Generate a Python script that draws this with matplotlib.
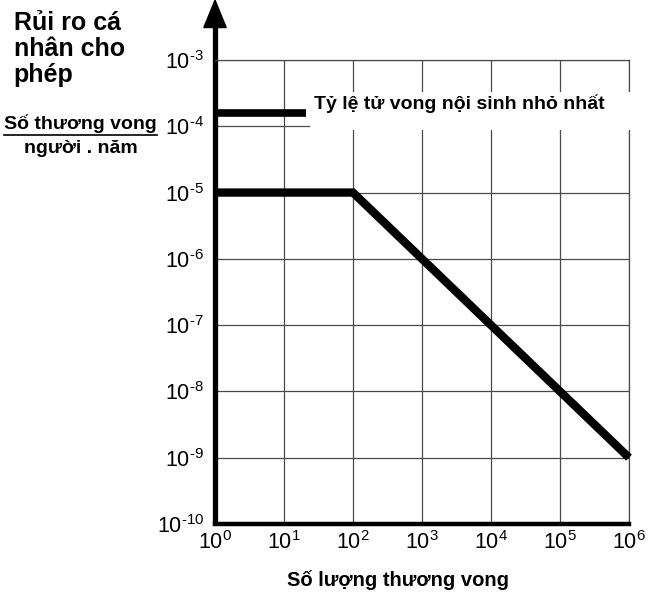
import matplotlib
matplotlib.use('Agg')
import matplotlib.pyplot as plt
from matplotlib.lines import Line2D
from matplotlib.patches import Polygon

plt.rcParams['font.family'] = ['Liberation Sans', 'DejaVu Sans']
plt.rcParams['mathtext.fontset'] = 'custom'
plt.rcParams['mathtext.rm'] = 'Liberation Sans'
plt.rcParams['mathtext.it'] = 'Liberation Sans'

# Criterion line (number of casualties vs allowed individual risk)
casualties = [1, 100, 1e6]
risk_limit = [1e-5, 1e-5, 1e-9]

# Minimum natural death rate marker
min_death_x = [1, 21]
min_death_y = [1.6e-4, 1.6e-4]

x_exps = [0, 1, 2, 3, 4, 5, 6]
y_exps = [-10, -9, -8, -7, -6, -5, -4, -3]


def sup_label(e):
    # short hyphen like the original instead of the math minus
    s = str(e).replace('-', '\u2010')
    return r'$\mathregular{10^{%s}}$' % s


fig = plt.figure(figsize=(6.49, 5.93), dpi=100)
ax = fig.add_axes([0.3313, 0.1164, 0.6379, 0.7824])

ax.set_xscale('log')
ax.set_yscale('log')
ax.set_xlim(10.0 ** x_exps[0], 10.0 ** x_exps[-1])
ax.set_ylim(10.0 ** y_exps[0], 10.0 ** y_exps[-1])

ax.set_xticks([10.0 ** e for e in x_exps])
ax.set_xticklabels([sup_label(e) for e in x_exps])
ax.set_yticks([10.0 ** e for e in y_exps])
ax.set_yticklabels([sup_label(e) for e in y_exps])
ax.minorticks_off()
ax.tick_params(length=0, labelsize=15.5)
ax.tick_params(axis='y', pad=8)
ax.tick_params(axis='x', pad=5)

ax.grid(True, color='#4a4a4a', lw=0.9)
ax.set_axisbelow(True)

for s in ['top', 'right']:
    ax.spines[s].set_color('#4a4a4a')
    ax.spines[s].set_linewidth(0.9)
ax.spines['bottom'].set_linewidth(3.2)
ax.spines['left'].set_visible(False)

# thick y axis with arrow on top
ax.add_line(Line2D([0, 0], [0, 1.08], transform=ax.transAxes, color='black',
                   lw=3.8, clip_on=False, solid_capstyle='butt'))
ax.add_patch(Polygon([[-0.027, 1.07], [0.027, 1.07], [0, 1.129]], closed=True,
                     transform=ax.transAxes, color='black', clip_on=False))

ax.plot(casualties, risk_limit, color='black', lw=6, solid_capstyle='butt',
        solid_joinstyle='miter', clip_on=False, zorder=5)
ax.plot(min_death_x, min_death_y, color='black', lw=5.5, solid_capstyle='butt',
        clip_on=False, zorder=5)

# white strip behind the label hides the grid there
ax.add_patch(plt.Rectangle((0.229, 0.849), 0.82, 0.082, transform=ax.transAxes,
                           facecolor='white', edgecolor='none', clip_on=False, zorder=3))
ax.text(0.238, 0.905, 'Tỷ lệ tử vong nội sinh nhỏ nhất', transform=ax.transAxes,
        fontsize=14, fontweight='bold', va='center', ha='left', zorder=4)

fig.text(0.021, 0.981, 'Rủi ro cá\nnhân cho\nphép', fontsize=18, fontweight='bold',
         va='top', ha='left', linespacing=1.1)
fig.text(0.124, 1 - 124 / 593, 'Số thương vong', fontsize=14, fontweight='bold',
         ha='center', va='center')
fig.add_artist(Line2D([4 / 649, 157 / 649], [1 - 135 / 593, 1 - 135 / 593],
                      transform=fig.transFigure, color='black', lw=1.2))
fig.text(0.124, 1 - 148 / 593, 'người . năm', fontsize=14, fontweight='bold',
         ha='center', va='center')

fig.text(398 / 649, 1 - 580 / 593, 'Số lượng thương vong', fontsize=14.5,
         fontweight='bold', ha='center', va='center')

fig.savefig('out.png', dpi=100, facecolor='white')
